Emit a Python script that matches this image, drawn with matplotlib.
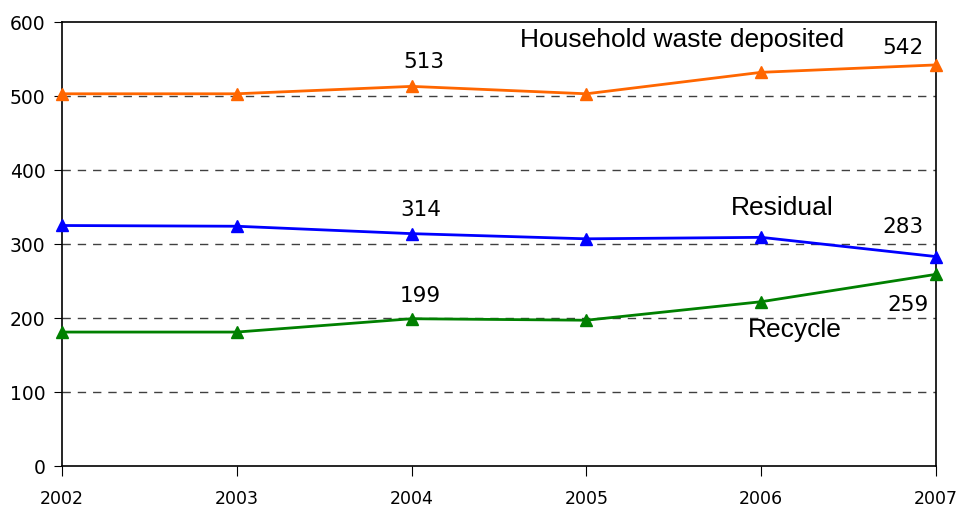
import matplotlib
matplotlib.use("Agg")
import matplotlib.pyplot as plt

years = [2002, 2003, 2004, 2005, 2006, 2007]
household = [503, 503, 513, 503, 532, 542]
residual = [325, 324, 314, 307, 309, 283]
recycle = [181, 181, 199, 197, 222, 259]
yticks = [0, 100, 200, 300, 400, 500, 600]

fig = plt.figure(figsize=(9.6, 5.11), dpi=100)
ax = fig.add_axes([62/960, 45/511, 874/960, 444/511])

for v in yticks[1:-1]:
    ax.axhline(v, color="#404040", lw=1.0, ls=(0, (6, 5)), zorder=1)

ax.plot(years, household, color="#FF6600", lw=2, marker="^", ms=9, zorder=3, clip_on=False)
ax.plot(years, residual, color="#0000FF", lw=2, marker="^", ms=9, zorder=3, clip_on=False)
ax.plot(years, recycle, color="#008000", lw=2, marker="^", ms=9, zorder=3, clip_on=False)

ax.set_xlim(2002, 2007)
ax.set_ylim(0, 600)
ax.set_xticks(years)
ax.set_xticklabels([str(y) for y in years])
ax.set_yticks(yticks)
for s in ax.spines.values():
    s.set_color("black")
    s.set_linewidth(1.2)
ax.tick_params(axis="x", direction="out", length=7, pad=10, labelsize=12.5)
ax.tick_params(axis="y", direction="out", length=6, pad=6, labelsize=13.5)

lab = dict(ha="center", va="center", fontsize=19, family="Liberation Sans")
num = dict(ha="center", va="center", fontsize=15.5, family="DejaVu Sans")
ax.text(2005.55, 576, "Household waste deposited", **lab)
ax.text(2006.12, 349, "Residual", **lab)
ax.text(2006.19, 184, "Recycle", **lab)
ax.text(2004.07, 546, "513", **num)
ax.text(2006.81, 565, "542", **num)
ax.text(2004.05, 346, "314", **num)
ax.text(2006.81, 323, "283", **num)
ax.text(2004.05, 230, "199", **num)
ax.text(2006.84, 218, "259", **num)

fig.savefig("out.png", dpi=100)
